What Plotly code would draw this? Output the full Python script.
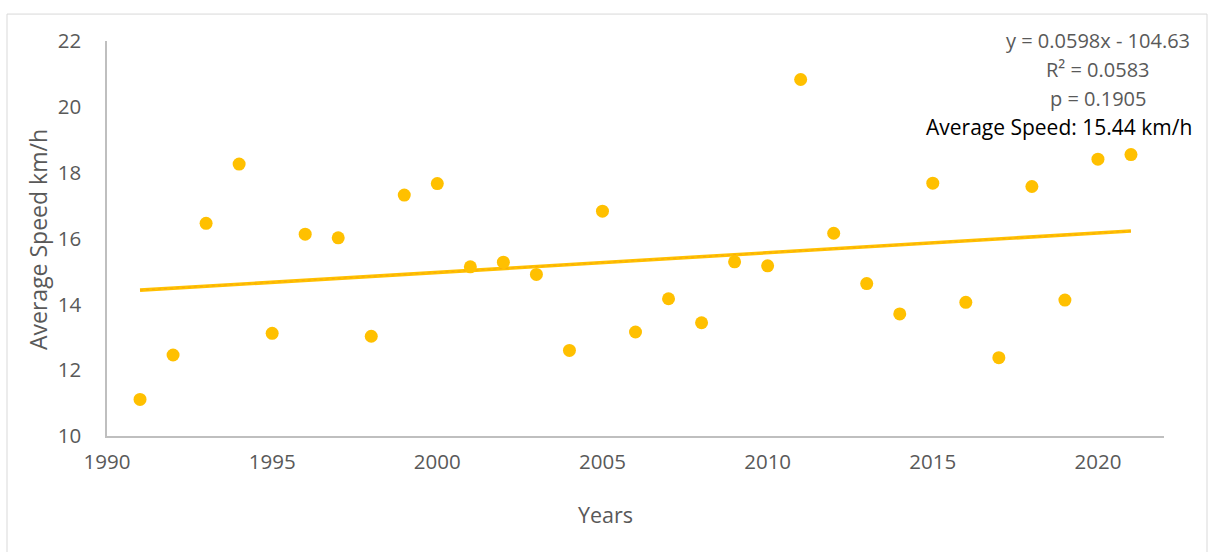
import plotly.graph_objects as go

# Annual average speed (km/h)
years = list(range(1991, 2022))
avg_speed = [
    11.11, 12.46, 16.46, 18.26, 13.12, 16.13, 16.02, 13.03, 17.32, 17.67,
    15.14, 15.28, 14.91, 12.60, 16.83, 13.16, 14.17, 13.44, 15.29, 15.17,
    20.83, 16.16, 14.63, 13.71, 17.68, 14.06, 12.38, 17.58, 14.13, 18.41,
    18.55,
]

# Linear trend fitted to the series
trend_slope = 0.0598
trend_intercept = -104.63
stats_lines = ["y = 0.0598x - 104.63", "R² = 0.0583", "p = 0.1905"]
mean_label = "Average Speed: 15.44 km/h"

x_ticks = [1990, 1995, 2000, 2005, 2010, 2015, 2020]
y_ticks = [10, 12, 14, 16, 18, 20, 22]

GOLD = "#FFC000"
TEXT = "#595959"
FONT = "Open Sans, Lato, sans-serif"

W, H = 1209, 552
ML, MR, MT, MB = 107, 45, 40.5, 115.5
PW, PH = W - ML - MR, H - MT - MB


def px_x(px):
    return (px - ML) / PW


def px_y(py):
    return (H - MB - py) / PH


trend_x = [years[0], years[-1]]
trend_y = [trend_slope * x + trend_intercept for x in trend_x]

fig = go.Figure()
fig.add_trace(go.Scatter(
    x=trend_x, y=trend_y, mode="lines",
    line=dict(color=GOLD, width=3.6), hoverinfo="skip", showlegend=False,
))
fig.add_trace(go.Scatter(
    x=trend_x, y=trend_y, mode="lines",
    line=dict(color="#ED7D31", width=1, dash="dot"), opacity=0.35,
    hoverinfo="skip", showlegend=False,
))
fig.add_trace(go.Scatter(
    x=years, y=avg_speed, mode="markers",
    marker=dict(color=GOLD, size=13, line=dict(width=0)),
    showlegend=False,
))

annotations = []
for i, line in enumerate(stats_lines):
    annotations.append(dict(
        x=px_x(1098), y=px_y(40 + 29 * i), xref="paper", yref="paper",
        text=line, showarrow=False, xanchor="center", yanchor="middle",
        font=dict(family=FONT, size=20, color=TEXT),
    ))
annotations.append(dict(
    x=px_x(1194), y=px_y(127), xref="paper", yref="paper",
    text=mean_label, showarrow=False, xanchor="right", yanchor="middle",
    font=dict(family=FONT, size=21, color="#000000"),
))
annotations.append(dict(
    x=px_x(605), y=px_y(515), xref="paper", yref="paper",
    text="Years", showarrow=False, xanchor="center", yanchor="middle",
    font=dict(family=FONT, size=21.5, color=TEXT),
))
annotations.append(dict(
    x=px_x(38), y=px_y(240), xref="paper", yref="paper",
    text="Average Speed km/h", showarrow=False, textangle=-90,
    xanchor="center", yanchor="middle",
    font=dict(family=FONT, size=23, color=TEXT),
))

fig.update_layout(
    width=W, height=H,
    margin=dict(l=ML, r=MR, t=MT, b=MB),
    paper_bgcolor="white", plot_bgcolor="white",
    font=dict(family=FONT, size=20, color=TEXT),
    annotations=annotations,
    shapes=[dict(
        type="rect", xref="paper", yref="paper",
        x0=px_x(7), x1=px_x(1207), y0=px_y(575), y1=px_y(13.5),
        line=dict(color="#D9D9D9", width=1), fillcolor="rgba(0,0,0,0)",
        layer="below",
    )],
    xaxis=dict(
        range=[1990, 2022], tickvals=x_ticks, showgrid=False, zeroline=False,
        showline=True, linecolor="#BFBFBF", linewidth=1.5,
        ticks="", ticklabelstandoff=7,
        tickfont=dict(family=FONT, size=20.5, color=TEXT),
    ),
    yaxis=dict(
        range=[10, 22], tickvals=y_ticks, showgrid=False, zeroline=False,
        showline=True, linecolor="#BFBFBF", linewidth=1.5,
        ticks="", ticklabelstandoff=20,
        tickfont=dict(family=FONT, size=20.5, color=TEXT),
    ),
)

fig.write_html("out.html")
